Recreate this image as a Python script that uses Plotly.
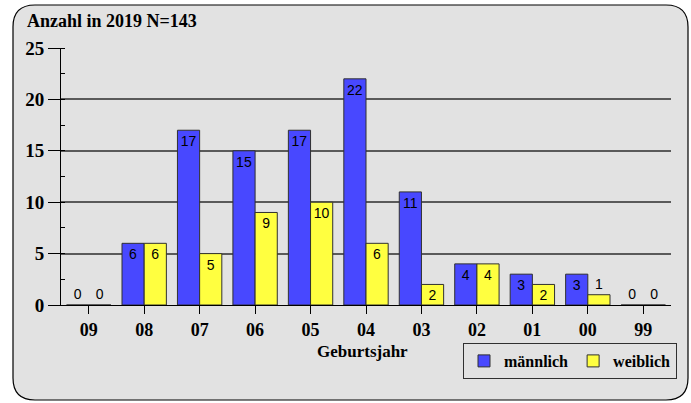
import plotly.graph_objects as go

categories = ["09", "08", "07", "06", "05", "04", "03", "02", "01", "00", "99"]
maennlich = [0, 6, 17, 15, 17, 22, 11, 4, 3, 3, 0]
weiblich = [0, 6, 5, 9, 10, 6, 2, 4, 2, 1, 0]

def positions(vals):
    return ["outside" if v <= 1 else "inside" for v in vals]

label_font = dict(family="Liberation Sans, Arial", size=14, color="black")

fig = go.Figure()
fig.add_trace(go.Bar(
    x=categories, y=maennlich, name="<b>männlich</b>",
    marker=dict(color="#4848ff", line=dict(color="#303030", width=1)),
    text=[str(v) for v in maennlich], textposition=positions(maennlich),
    insidetextanchor="end", textangle=0, constraintext="none",
    textfont=label_font, cliponaxis=False,
))
fig.add_trace(go.Bar(
    x=categories, y=weiblich, name="<b>weiblich</b>",
    marker=dict(color="#ffff40", line=dict(color="#303030", width=1)),
    text=[str(v) for v in weiblich], textposition=positions(weiblich),
    insidetextanchor="end", textangle=0, constraintext="none",
    textfont=label_font, cliponaxis=False,
))

W, H = 691, 403
ml, mr, mt, mb = 61, 20, 48, 98
pw, ph = W - ml - mr, H - mt - mb

def px_to_paper_x(px):
    return (px - ml) / pw

def px_to_paper_y(py):
    return (H - mb - py) / ph

r = 22
x0, x1, y0, y1 = 13, 688, 5, 400
pts = [("M", x0 + r, y0), ("L", x1 - r, y0), ("Q", x1, y0, x1, y0 + r), ("L", x1, y1 - r),
       ("Q", x1, y1, x1 - r, y1), ("L", x0 + r, y1), ("Q", x0, y1, x0, y1 - r),
       ("L", x0, y0 + r), ("Q", x0, y0, x0 + r, y0)]
parts = []
for p in pts:
    cmd, coords = p[0], p[1:]
    s = cmd
    for i in range(0, len(coords), 2):
        s += f" {px_to_paper_x(coords[i])},{px_to_paper_y(coords[i+1])}"
    parts.append(s)
path = " ".join(parts) + " Z"

fig.add_shape(type="path", xref="paper", yref="paper", path=path,
              fillcolor="#e2e2e2", line=dict(color="black", width=1.2), layer="below")

serif = "Liberation Serif, Times New Roman, serif"

fig.update_layout(
    width=W, height=H,
    margin=dict(l=ml, r=mr, t=mt, b=mb, autoexpand=False),
    paper_bgcolor="white", plot_bgcolor="rgba(0,0,0,0)",
    barmode="group", bargap=0.2, bargroupgap=0.0,
    title=dict(text="<b>Anzahl in 2019 N=143</b>", x=27 / W, xanchor="left",
               y=1 - 21 / H, yanchor="middle",
               font=dict(family=serif, size=18, color="black")),
    font=dict(family=serif, color="black"),
    showlegend=True,
    legend=dict(orientation="h", x=px_to_paper_x(463), xanchor="left",
                y=px_to_paper_y(343), yanchor="top",
                bgcolor="#e2e2e2", bordercolor="#303030", borderwidth=1,
                font=dict(family=serif, size=16, color="black"),
                itemwidth=30),
    xaxis=dict(showgrid=False, showline=True, linecolor="black", linewidth=1,
               ticks="outside", ticklen=8, tickcolor="black",
               tickfont=dict(family=serif, size=18, color="black"),
               tickprefix="<b>", ticksuffix="</b>"),
    yaxis=dict(range=[0, 25], dtick=5, showgrid=True, gridcolor="#5a5a5a", gridwidth=1.5,
               showline=True, linecolor="black", linewidth=1,
               ticks="outside", ticklen=12, tickcolor="black",
               tickfont=dict(family=serif, size=19, color="black"),
               tickprefix="<b>", ticksuffix="</b>", zeroline=False,
               minor=dict(dtick=2.5, ticks="inside", ticklen=4, tickcolor="black", showgrid=False)),
    annotations=[dict(text="<b>Geburtsjahr</b>", xref="paper", yref="paper",
                      x=px_to_paper_x(362), y=px_to_paper_y(351), xanchor="center",
                      yanchor="middle", showarrow=False,
                      font=dict(family=serif, size=17, color="black"))],
)

fig.write_html("out.html")
